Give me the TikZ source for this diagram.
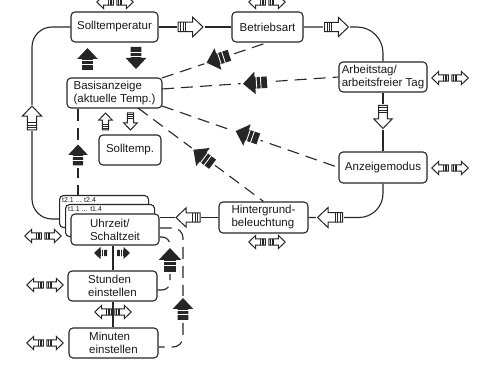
\documentclass[tikz,border=0pt]{standalone}
\usepackage{fontspec}
\setmainfont{Liberation Sans}
\usetikzlibrary{calc}
\definecolor{lc}{HTML}{262626}
\newcommand\fs{\fontsize{11.5}{13}\selectfont}
\newcommand\fstiny{\fontsize{7}{8}\selectfont}
\newcommand\myhol{%
  \fill[white] (-0.56,-0.24) rectangle (0.56,0.24);
  \draw[draw=lc,line width=1pt,fill=white,line join=miter] (-0.5,-0.19) -- (0.08,-0.19) -- (0.08,-0.4) -- (0.5,0) -- (0.08,0.4) -- (0.08,0.19) -- (-0.5,0.19) -- cycle;
  \draw[lc,line width=0.8pt] (-0.4,-0.19) -- (-0.4,0.19) (-0.3,-0.19) -- (-0.3,0.19) (-0.2,-0.19) -- (-0.2,0.19);}
\newcommand\myblk{%
  \fill[white] (-0.6,-0.16) rectangle (0.6,0.16);
  \fill[lc] (-0.5,-0.24) -- (0,-0.24) -- (0,-0.47) -- (0.5,0) -- (0,0.47) -- (0,0.24) -- (-0.5,0.24) -- cycle;
  \draw[white,line width=0.9pt] (-0.06,-0.3) -- (-0.06,0.3) (-0.24,-0.3) -- (-0.24,0.3);}
\tikzset{
  ln/.style={draw=lc, line width=1.1pt},
  dsh/.style={ln, dash pattern=on 12pt off 7pt},
  box/.style={draw=lc, line width=1.1pt, rounded corners=4pt, fill=white, align=left, inner sep=0pt, font=\fs, text=black!90},
  tlab/.style={font=\fstiny, anchor=west, inner sep=0pt, text=black!90},
  pics/hol/.style={code={\myhol}},
  pics/blk/.style={code={\myblk}},
  pics/pair/.style={code={
    \begin{scope}[shift={(-10,0)},rotate=180,scale=16.5]\myhol\end{scope}
    \begin{scope}[shift={(10,0)},scale=16.5]\myhol\end{scope}
  }},
}
\begin{document}
\begin{tikzpicture}[x=1pt, y=-1pt]
\useasboundingbox (0,0) rectangle (477,371);

% nodes
\node[box, minimum width=87pt, minimum height=30pt] (soll) at (114.5,27) {Solltemperatur};
\node[box, minimum width=71pt, minimum height=30pt] (betr) at (267.5,27) {Betriebsart};
\node[box, minimum width=88pt, minimum height=30pt] (arb) at (383,77) {Arbeitstag/\\arbeitsfreier Tag};
\node[box, minimum width=95pt, minimum height=30pt] (basis) at (114.5,93) {Basisanzeige\\(aktuelle Temp.)};
\node[box, minimum width=62pt, minimum height=30pt] (st) at (130,150) {Solltemp.};
\node[box, minimum width=88pt, minimum height=31pt] (anz) at (383,167.5) {Anzeigemodus};
\node[box, minimum width=89pt, minimum height=31pt] (hint) at (263.5,217.5) {Hintergrund-\\beleuchtung};
\node[box, minimum width=89pt, minimum height=32pt, anchor=north west] (t2) at (59,195) {};
\node[tlab] (t2l) at (62,200.5) {t2.1 ... t2.4};
\node[box, minimum width=89pt, minimum height=32pt, anchor=north west] (t1) at (65,204) {};
\node[tlab] (t1l) at (68,209.5) {t1.1 ... t1.4};
\node[box, minimum width=88pt, minimum height=31pt] (uhr) at (115,229.5) {Uhrzeit/\\Schaltzeit};
\node[box, minimum width=89pt, minimum height=30pt] (std) at (112.5,286) {Stunden\\einstellen};
\node[box, minimum width=89pt, minimum height=30pt] (min) at (113.5,343) {Minuten\\einstellen};

% coordinates for dashed connector ends
\coordinate (b1) at (162,78);
\coordinate (b2) at (162,89);
\coordinate (b3) at (162,106);
\coordinate (b4) at (138,108);

% solid connectors
\draw[ln] (soll.east) -- (betr.west);
\pic[scale=25] at (190.5,27) {hol};
\draw[ln, rounded corners=26pt] (betr.east) -- (arb.north |- betr.east) -- (arb.north);
\pic[scale=24] at (336.5,27) {hol};
\draw[ln] (arb.south) -- (anz.north);
\pic[rotate=-90, scale=23] at (383,117) {hol};
\draw[ln, rounded corners=24pt] (anz.south) -- (anz.south |- hint.east) -- (hint.east);
\pic[rotate=180, scale=25] at (330,217.5) {hol};
\draw[ln] (hint.west) -- (uhr.east |- hint.west);
\pic[rotate=180, scale=24] at (188,217.5) {hol};
\draw[ln, rounded corners=20pt] (soll.west) -- (32,27) -- (32,219) -- (t2.west |- 0,219);
\pic[rotate=90, scale=24] at (32,118) {hol};
\draw[ln] (uhr.south -| 113,0) -- (std.north -| 113,0);
\draw[ln] (std.south -| 113,0) -- (min.north -| 113,0);

% dashed connectors
\draw[dsh] (b1) -- (betr.south);
\pic[rotate=198, scale=24] at (218,59) {blk};
\draw[dsh] (b2) -- (arb.west);
\pic[rotate=184, scale=24] at (255,83) {blk};
\draw[dsh] (b3) -- (anz.west);
\pic[rotate=161, scale=24] at (247,135) {blk};
\draw[dsh] (b4) -- (hint.north);
\pic[rotate=143, scale=24] at (203,157) {blk};
\draw[dsh] (basis.south -| 78,0) -- (t2.north -| 78,0);
\pic[rotate=90, scale=21] at (78,155) {blk};
\draw[dsh, rounded corners=8pt] (uhr.east |- 0,237) -- (170,237) -- (170,290) -- (std.east |- 0,290);
\pic[rotate=90, scale=24] at (170,260) {blk};
\draw[dsh, rounded corners=10pt] (uhr.east |- 0,228) -- (183,228) -- (183,347) -- (min.east |- 0,347);
\pic[rotate=90, scale=22] at (183,309) {blk};

% arrows between Solltemperatur and Basisanzeige
\pic[rotate=90, scale=22] at (87.5,59) {blk};
\pic[rotate=-90, scale=22] at (136,58) {blk};
% hollow arrows under Basisanzeige
\pic[rotate=90, scale=17] at (105.5,121.5) {hol};
\pic[rotate=-90, scale=17] at (130.5,121.5) {hol};
% small black arrows between Uhrzeit and Stunden
\pic[rotate=180, scale=13] at (100.5,253) {blk};
\pic[scale=13] at (123.5,253) {blk};

% left/right pairs
\pic at (115,2) {pair};
\pic at (267,2) {pair};
\pic at (450,78) {pair};
\pic at (450,168) {pair};
\pic at (267,242) {pair};
\pic at (43,236) {pair};
\pic at (45,285) {pair};
\pic at (113,312) {pair};
\pic at (45,343) {pair};
\end{tikzpicture}
\end{document}
